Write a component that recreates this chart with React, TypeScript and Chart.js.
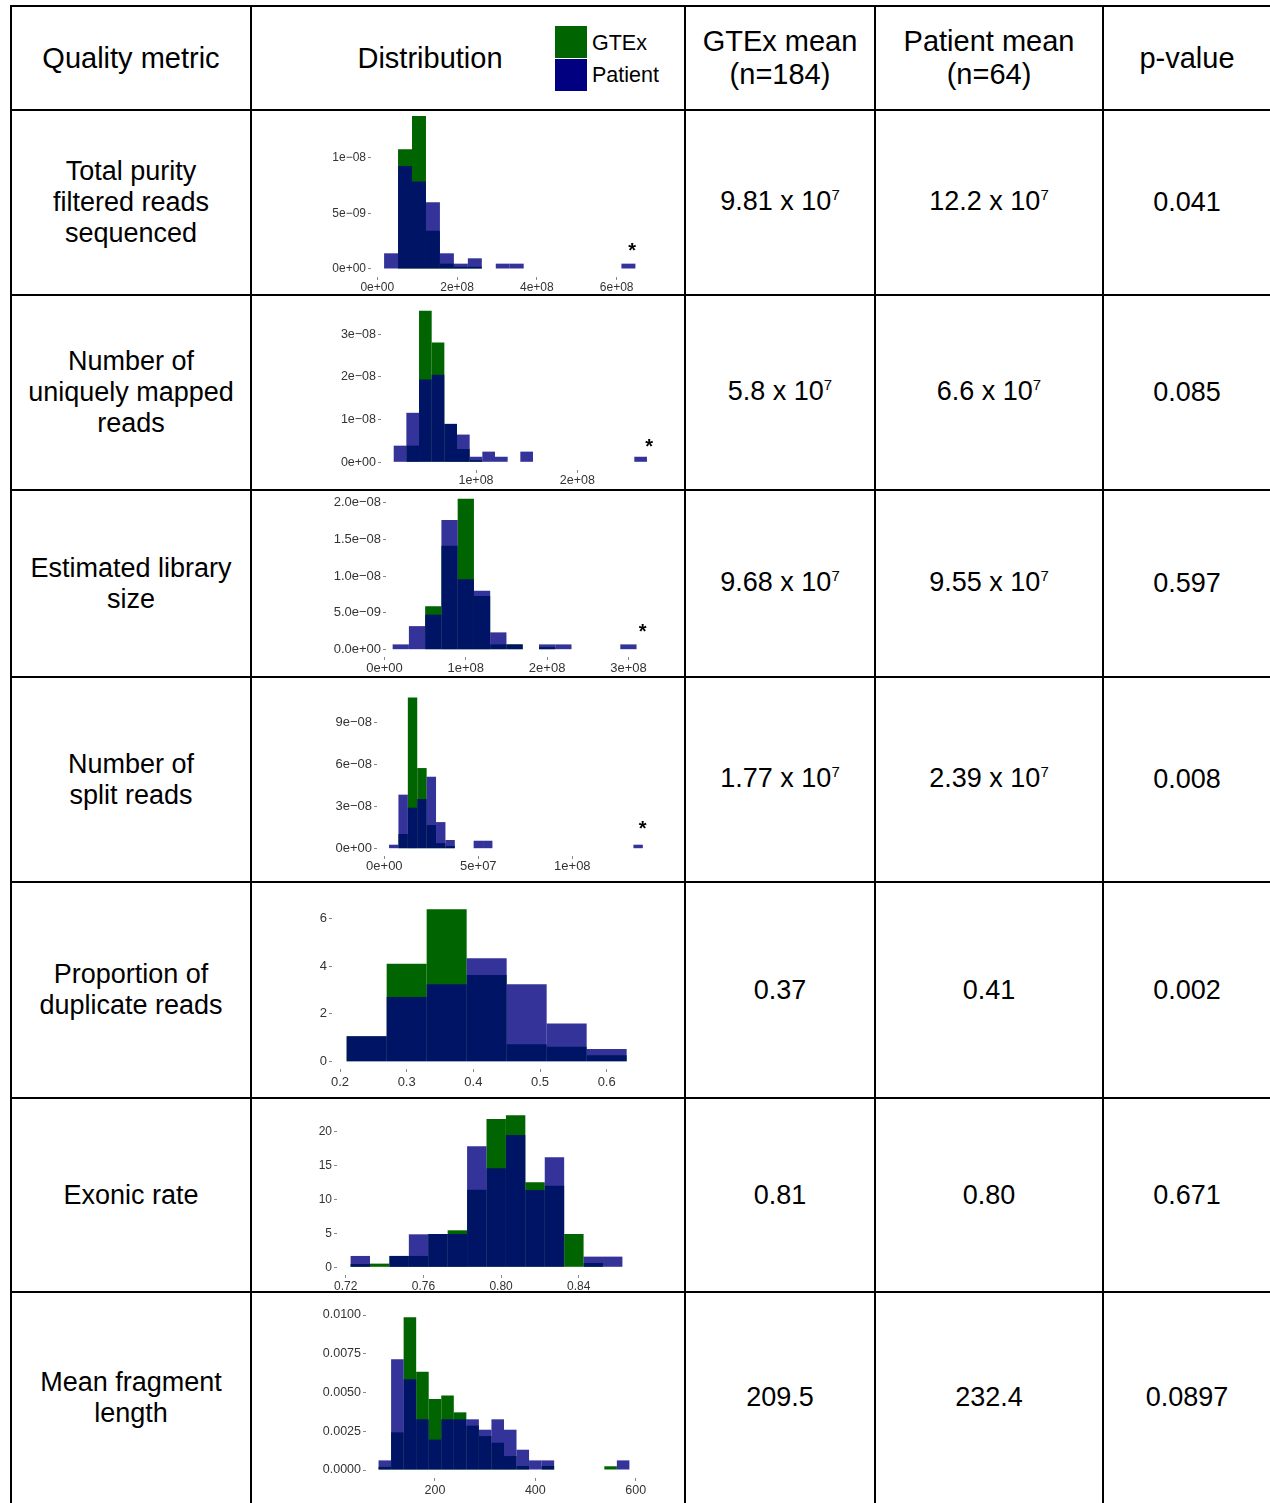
import React, { useEffect, useRef } from 'react';
import { Chart, registerables } from 'chart.js';

Chart.register(...registerables);
Chart.defaults.font.family = "'Liberation Sans', Arial, sans-serif";

// ---------------- DATA ----------------
// 1. Total purity filtered reads sequenced
const purityBinStart = 1.7e7;
const purityBinWidth = 3.5e7;
const purityGtex = [0, 1.075e-8, 1.374e-8, 0.344e-8, 0.048e-8, 0.02e-8, 0.02e-8, 0, 0, 0, 0, 0, 0, 0, 0, 0, 0, 0];
const purityPatient = [0.141e-8, 0.925e-8, 0.787e-8, 0.6e-8, 0.141e-8, 0.048e-8, 0.096e-8, 0, 0.048e-8, 0.048e-8, 0, 0, 0, 0, 0, 0, 0, 0.048e-8];
const purityXTicks = [0, 2e8, 4e8, 6e8];
const purityXLabels = ['0e+00', '2e+08', '4e+08', '6e+08'];
const purityYTicks = [0, 5e-9, 1e-8];
const purityYLabels = ['0e+00', '5e\u221209', '1e\u221208'];

// 2. Number of uniquely mapped reads
const uniqueBinStart = 1.875e7;
const uniqueBinWidth = 1.25e7;
const uniqueGtex = [0, 0.39e-8, 3.55e-8, 2.81e-8, 0.9e-8, 0.31e-8, 0.05e-8, 0, 0, 0, 0, 0, 0, 0, 0, 0, 0, 0, 0, 0];
const uniquePatient = [0.39e-8, 1.16e-8, 1.94e-8, 2.05e-8, 0.9e-8, 0.65e-8, 0.13e-8, 0.25e-8, 0.13e-8, 0, 0.25e-8, 0, 0, 0, 0, 0, 0, 0, 0, 0.13e-8];
const uniqueXTicks = [1e8, 2e8];
const uniqueXLabels = ['1e+08', '2e+08'];
const uniqueYTicks = [0, 1e-8, 2e-8, 3e-8];
const uniqueYLabels = ['0e+00', '1e\u221208', '2e\u221208', '3e\u221208'];

// 3. Estimated library size
const libraryBinStart = 1e7;
const libraryBinWidth = 2e7;
const libraryGtex = [0, 0, 0.59e-8, 1.41e-8, 2.05e-8, 0.73e-8, 0.072e-8, 0.072e-8, 0, 0.035e-8, 0, 0, 0, 0, 0];
const libraryPatient = [0.072e-8, 0.32e-8, 0.475e-8, 1.76e-8, 0.955e-8, 0.8e-8, 0.235e-8, 0.072e-8, 0, 0.072e-8, 0.072e-8, 0, 0, 0, 0.072e-8];
const libraryXTicks = [0, 1e8, 2e8, 3e8];
const libraryXLabels = ['0e+00', '1e+08', '2e+08', '3e+08'];
const libraryYTicks = [0, 5e-9, 1e-8, 1.5e-8, 2e-8];
const libraryYLabels = ['0.0e+00', '5.0e\u221209', '1.0e\u221208', '1.5e\u221208', '2.0e\u221208'];

// 4. Number of split reads
const splitBinStart = 2.5e6;
const splitBinWidth = 5e6;
const splitGtex = [0, 1.05e-8, 10.8e-8, 5.76e-8, 1.69e-8, 0.4e-8, 0.19e-8, 0, 0, 0, 0, 0, 0, 0, 0, 0, 0, 0, 0, 0, 0, 0, 0, 0, 0, 0, 0];
const splitPatient = [0.286e-8, 3.86e-8, 2.93e-8, 3.55e-8, 5.14e-8, 1.9e-8, 0.62e-8, 0, 0, 0.57e-8, 0.57e-8, 0, 0, 0, 0, 0, 0, 0, 0, 0, 0, 0, 0, 0, 0, 0, 0.286e-8];
const splitXTicks = [0, 5e7, 1e8];
const splitXLabels = ['0e+00', '5e+07', '1e+08'];
const splitYTicks = [0, 3e-8, 6e-8, 9e-8];
const splitYLabels = ['0e+00', '3e\u221208', '6e\u221208', '9e\u221208'];

// 5. Proportion of duplicate reads
const dupBinStart = 0.21;
const dupBinWidth = 0.06;
const dupGtex = [1.07, 4.1, 6.38, 3.63, 0.73, 0.63, 0.27];
const dupPatient = [1.07, 2.71, 3.24, 4.33, 3.24, 1.6, 0.53];
const dupXTicks = [0.2, 0.3, 0.4, 0.5, 0.6];
const dupXLabels = ['0.2', '0.3', '0.4', '0.5', '0.6'];
const dupYTicks = [0, 2, 4, 6];
const dupYLabels = ['0', '2', '4', '6'];

// 6. Exonic rate
const exonBinStart = 0.7225;
const exonBinWidth = 0.01;
const exonGtex = [0.49, 0.54, 1.67, 1.67, 4.9, 5.44, 11.4, 21.8, 22.35, 12.5, 12.0, 4.9, 0.64, 0];
const exonPatient = [1.67, 0, 1.67, 4.85, 4.9, 4.9, 17.8, 14.56, 19.46, 11.37, 16.18, 0, 1.57, 1.57];
const exonXTicks = [0.72, 0.76, 0.8, 0.84];
const exonXLabels = ['0.72', '0.76', '0.80', '0.84'];
const exonYTicks = [0, 5, 10, 15, 20];
const exonYLabels = ['0', '5', '10', '15', '20'];

// 7. Mean fragment length
const fragBinStart = 87.5;
const fragBinWidth = 25;
const fragGtex = [0.0002, 0.00243, 0.00985, 0.00634, 0.00458, 0.0048, 0.00372, 0.00286, 0.00219, 0.00176, 0.0009, 0.00026, 0, 0.00026, 0, 0, 0, 0, 0.00024, 0];
const fragPatient = [0.00062, 0.00714, 0.00585, 0.00327, 0.00196, 0.00327, 0.00327, 0.00327, 0.0026, 0.00327, 0.0026, 0.00131, 0.00062, 0.00062, 0, 0, 0, 0, 0, 0.00062];
const fragXTicks = [200, 400, 600];
const fragXLabels = ['200', '400', '600'];
const fragYTicks = [0, 0.0025, 0.005, 0.0075, 0.01];
const fragYLabels = ['0.0000', '0.0025', '0.0050', '0.0075', '0.0100'];

// Table text
const metricNames = [
  'Total purity\nfiltered reads\nsequenced',
  'Number of\nuniquely mapped\nreads',
  'Estimated library\nsize',
  'Number of\nsplit reads',
  'Proportion of\nduplicate reads',
  'Exonic rate',
  'Mean fragment\nlength',
];
const gtexMeans = ['9.81 x 10^7', '5.8 x 10^7', '9.68 x 10^7', '1.77 x 10^7', '0.37', '0.81', '209.5'];
const patientMeans = ['12.2 x 10^7', '6.6 x 10^7', '9.55 x 10^7', '2.39 x 10^7', '0.41', '0.80', '232.4'];
const pValues = ['0.041', '0.085', '0.597', '0.008', '0.002', '0.671', '0.0897'];

// ---------------- LAYOUT / STYLE ----------------
const GREEN = '#006400';
const NAVY_ALPHA = 'rgba(0,0,128,0.8)';
const Y_AXIS_W = 60;
const X_AXIS_H = 20;
const RIGHT_PAD = 14;

const rowLines = [110, 295, 490, 677, 882, 1098, 1292, 1503];
const colLines = [11, 251, 685, 875, 1103, 1271];

const charts = [
  { start: purityBinStart, width: purityBinWidth, gtex: purityGtex, patient: purityPatient, xTicks: purityXTicks, xLabels: purityXLabels, yTicks: purityYTicks, yLabels: purityYLabels,
    L: 371, R: 650, T: 111, B: 277, xMin: -1.579e7, xMax: 6.836e8, yMin: -0.0719e-8, yMax: 1.4192e-8, font: 12, xPad: 0, star: { dx: 3.6, dy: -16.7 } },
  { start: uniqueBinStart, width: uniqueBinWidth, gtex: uniqueGtex, patient: uniquePatient, xTicks: uniqueXTicks, xLabels: uniqueXLabels, yTicks: uniqueYTicks, yLabels: uniqueYLabels,
    L: 381, R: 661, T: 297, B: 470, xMin: 6.22e6, xMax: 2.826e8, yMin: -0.1805e-8, yMax: 3.874e-8, font: 12.5, xPad: 0, star: { dx: 8.4, dy: -13.8 } },
  { start: libraryBinStart, width: libraryBinWidth, gtex: libraryGtex, patient: libraryPatient, xTicks: libraryXTicks, xLabels: libraryXLabels, yTicks: libraryYTicks, yLabels: libraryYLabels,
    L: 386, R: 649, T: 492, B: 657, xMin: 1.85e6, xMax: 3.253e8, yMin: -0.0991e-8, yMax: 2.1406e-8, font: 13, xPad: 1, star: { dx: 14.3, dy: -16.4 } },
  { start: splitBinStart, width: splitBinWidth, gtex: splitGtex, patient: splitPatient, xTicks: splitXTicks, xLabels: splitXLabels, yTicks: splitYTicks, yLabels: splitYLabels,
    L: 377, R: 656, T: 679, B: 856, xMin: -3.9e6, xMax: 1.445e8, yMin: -0.521e-8, yMax: 12.12e-8, font: 13, xPad: 0, star: { dx: 4.6, dy: -20 } },
  { start: dupBinStart, width: dupBinWidth, gtex: dupGtex, patient: dupPatient, xTicks: dupXTicks, xLabels: dupXLabels, yTicks: dupYTicks, yLabels: dupYLabels,
    L: 332, R: 641, T: 884, B: 1069, xMin: 0.188, xMax: 0.6515, yMin: -0.3056, yMax: 7.438, font: 13, xPad: 3, star: null },
  { start: exonBinStart, width: exonBinWidth, gtex: exonGtex, patient: exonPatient, xTicks: exonXTicks, xLabels: exonXLabels, yTicks: exonYTicks, yLabels: exonYLabels,
    L: 337, R: 636, T: 1100, B: 1275, xMin: 0.7155, xMax: 0.8695, yMin: -1.132, yMax: 24.6, font: 12, xPad: 1, star: null },
  { start: fragBinStart, width: fragBinWidth, gtex: fragGtex, patient: fragPatient, xTicks: fragXTicks, xLabels: fragXLabels, yTicks: fragYTicks, yLabels: fragYLabels,
    L: 366, R: 642, T: 1294, B: 1478, xMin: 62.5, xMax: 612.6, yMin: -0.000516, yMax: 0.011355, font: 12.5, xPad: 2, star: null },
];

function Histogram({ spec }: { spec: any }) {
  const ref = useRef<HTMLCanvasElement | null>(null);
  const left = spec.L - Y_AXIS_W;
  const w = spec.R - left + RIGHT_PAD;
  const h = spec.B - spec.T + X_AXIS_H;

  useEffect(() => {
    if (!ref.current) return;
    const centers = spec.gtex.map((_: number, i: number) => spec.start + spec.width * (i + 0.5));
    const patientData = centers.map((x: number, i: number) => ({ x, y: spec.patient[i] > 0 ? spec.patient[i] : null }));
    const gtexData = centers.map((x: number, i: number) => ({ x, y: spec.gtex[i] > 0 ? spec.gtex[i] : null }));
    const tickFont = { size: spec.font, family: "'Liberation Sans', Arial, sans-serif" };

    const starPlugin = {
      id: 'outlierStar',
      afterDatasetsDraw(chart: any) {
        if (!spec.star) return;
        const meta = chart.getDatasetMeta(0);
        let idx = -1;
        spec.patient.forEach((v: number, i: number) => { if (v > 0) idx = i; });
        if (idx < 0) return;
        const el = meta.data[idx];
        const ctx = chart.ctx;
        const fs = 20;
        ctx.save();
        ctx.fillStyle = '#000';
        ctx.font = `bold ${fs}px 'Liberation Sans', Arial, sans-serif`;
        ctx.textAlign = 'center';
        ctx.textBaseline = 'middle';
        ctx.fillText('*', el.x + spec.star.dx, el.y + spec.star.dy + fs * 0.23);
        ctx.restore();
      },
    };

    const barOpts = { borderWidth: 0, grouped: false, barPercentage: 1, categoryPercentage: 1, inflateAmount: 0 };

    const chart = new Chart(ref.current, {
      type: 'bar',
      data: {
        datasets: [
          { label: 'Patient', data: patientData, backgroundColor: NAVY_ALPHA, ...barOpts },
          { label: 'GTEx', data: gtexData, backgroundColor: GREEN, ...barOpts },
        ],
      } as any,
      options: {
        animation: false,
        responsive: false,
        maintainAspectRatio: false,
        events: [],
        layout: { padding: { left: 0, top: 0, bottom: 0, right: RIGHT_PAD } },
        plugins: { legend: { display: false }, tooltip: { enabled: false } },
        scales: {
          x: {
            type: 'linear',
            offset: false,
            bounds: 'data',
            min: spec.xMin,
            max: spec.xMax,
            afterBuildTicks: (s: any) => { s.ticks = spec.xTicks.map((v: number) => ({ value: v })); },
            afterFit: (s: any) => { s.height = X_AXIS_H; s.paddingLeft = 0; s.paddingRight = 0; s.paddingTop = 0; s.paddingBottom = 0; },
            ticks: { autoSkip: false, maxRotation: 0, minRotation: 0, padding: spec.xPad, color: '#333', font: tickFont, callback: (_v: any, i: number) => spec.xLabels[i] },
            grid: { display: true, drawOnChartArea: false, drawTicks: true, tickLength: 3, color: '#888', offset: false },
            border: { display: false },
          },
          y: {
            type: 'linear',
            bounds: 'data',
            min: spec.yMin,
            max: spec.yMax,
            afterBuildTicks: (s: any) => { s.ticks = spec.yTicks.map((v: number) => ({ value: v })); },
            afterFit: (s: any) => { s.width = Y_AXIS_W; s.paddingLeft = 0; s.paddingRight = 0; s.paddingTop = 0; s.paddingBottom = 0; },
            ticks: { autoSkip: false, padding: 2, color: '#333', font: tickFont, callback: (_v: any, i: number) => spec.yLabels[i] },
            grid: { display: true, drawOnChartArea: false, drawTicks: true, tickLength: 3, color: '#888' },
            border: { display: false },
          },
        },
      } as any,
      plugins: [starPlugin],
    });
    return () => chart.destroy();
  }, []);

  return (
    <canvas
      ref={ref}
      width={w}
      height={h}
      style={{ position: 'absolute', left, top: spec.T, width: w, height: h }}
    />
  );
}

function ValueText({ text }: { text: string }) {
  const parts = text.split('^');
  if (parts.length === 1) return <span>{text}</span>;
  return (
    <span>
      {parts[0]}
      <span style={{ fontSize: 15, position: 'relative', top: -10 }}>{parts[1]}</span>
    </span>
  );
}

function Cell({ x0, x1, y0, y1, children, lh = 31, fs = 27 }: any) {
  return (
    <div
      style={{
        position: 'absolute', left: x0, top: y0, width: x1 - x0, height: y1 - y0,
        display: 'flex', alignItems: 'center', justifyContent: 'center',
        textAlign: 'center', whiteSpace: 'pre-line', lineHeight: `${lh}px`, fontSize: fs,
      }}
    >
      <div>{children}</div>
    </div>
  );
}

export default function App() {
  const lines: any[] = [];
  lines.push(<div key="htop" style={{ position: 'absolute', left: 10, top: 5, width: 1260, height: 2, background: '#000' }} />);
  rowLines.slice(0, -1).forEach((y, i) => {
    lines.push(<div key={'h' + i} style={{ position: 'absolute', left: 10, top: y - 1, width: 1260, height: 2, background: '#000' }} />);
  });
  colLines.forEach((x, i) => {
    lines.push(<div key={'v' + i} style={{ position: 'absolute', left: x - 1, top: 5, width: 2, height: 1498, background: '#000' }} />);
  });

  const headerTop = 6;
  const headerBottom = 110;

  return (
    <div
      style={{
        position: 'absolute', left: 0, top: 0, width: 1270, height: 1503, overflow: 'hidden',
        background: '#fff', fontFamily: "'Liberation Sans', Arial, sans-serif", fontSize: 29, color: '#000',
      }}
    >
      {lines}
      <Cell x0={11} x1={251} y0={headerTop} y1={headerBottom} lh={33} fs={29}>Quality metric</Cell>
      <div style={{ position: 'absolute', left: 330, top: 40, width: 200, textAlign: 'center', lineHeight: '36px' }}>Distribution</div>
      <div style={{ position: 'absolute', left: 555, top: 26, width: 32, height: 32, background: GREEN }} />
      <div style={{ position: 'absolute', left: 555, top: 59, width: 32, height: 32, background: '#000080' }} />
      <div style={{ position: 'absolute', left: 592, top: 30, fontSize: 21.5, lineHeight: '26px' }}>GTEx</div>
      <div style={{ position: 'absolute', left: 592, top: 62, fontSize: 21.5, lineHeight: '26px' }}>Patient</div>
      <Cell x0={685} x1={875} y0={headerTop} y1={headerBottom} lh={33} fs={29}>{'GTEx mean\n(n=184)'}</Cell>
      <Cell x0={875} x1={1103} y0={headerTop} y1={headerBottom} lh={33} fs={29}>{'Patient mean\n(n=64)'}</Cell>
      <Cell x0={1103} x1={1271} y0={headerTop} y1={headerBottom} lh={33} fs={29}>p-value</Cell>

      {metricNames.map((name, i) => {
        const y0 = rowLines[i];
        const y1 = rowLines[i + 1];
        return (
          <React.Fragment key={'r' + i}>
            <Cell x0={11} x1={251} y0={y0} y1={y1}>{name}</Cell>
            <Cell x0={685} x1={875} y0={y0} y1={y1}><ValueText text={gtexMeans[i]} /></Cell>
            <Cell x0={875} x1={1103} y0={y0} y1={y1}><ValueText text={patientMeans[i]} /></Cell>
            <Cell x0={1103} x1={1271} y0={y0} y1={y1}>{pValues[i]}</Cell>
          </React.Fragment>
        );
      })}

      {charts.map((spec, i) => <Histogram key={'c' + i} spec={spec} />)}
    </div>
  );
}
